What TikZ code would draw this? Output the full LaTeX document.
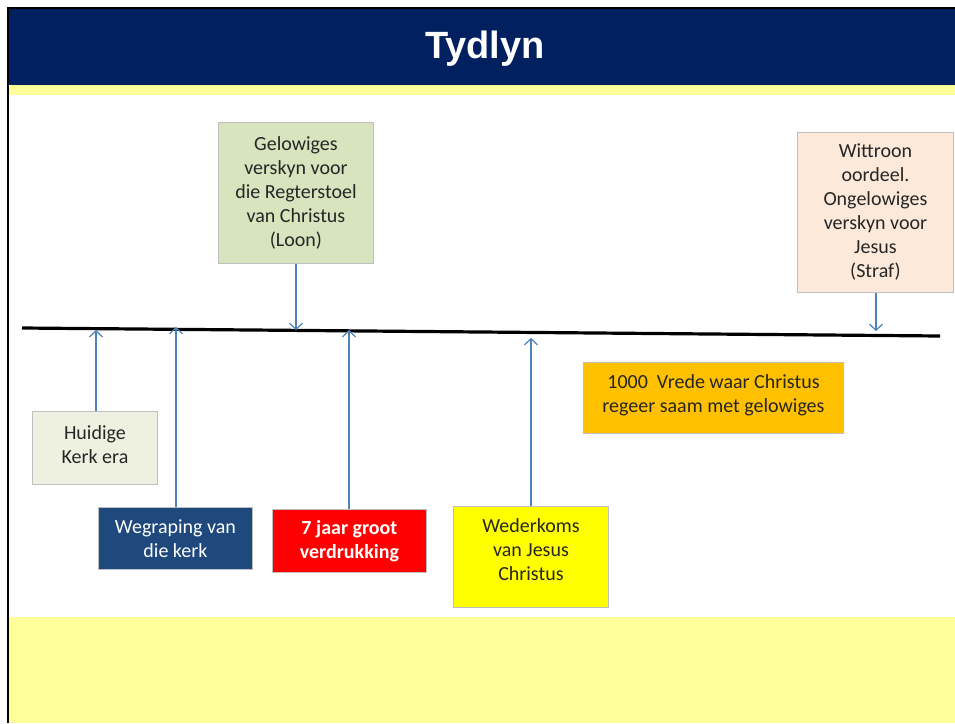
\documentclass[tikz,border=0pt]{standalone}
\usepackage{fontspec}
\setmainfont{Carlito}
\newfontfamily\titlefont{Liberation Sans}
\usetikzlibrary{arrows.meta}
\definecolor{navy}{HTML}{002060}
\definecolor{paleyellow}{HTML}{FFFF99}
\definecolor{boxgreen}{HTML}{D7E4BD}
\definecolor{boxpeach}{HTML}{FDE9D9}
\definecolor{boxpale}{HTML}{EEF1E0}
\definecolor{boxblue}{HTML}{1F497D}
\definecolor{boxorange}{HTML}{FFC000}
\definecolor{boxred}{HTML}{FF0000}
\definecolor{boxyellow}{HTML}{FFFF00}
\definecolor{arrowblue}{HTML}{4F81BD}
\definecolor{boxline}{HTML}{BFBFBF}
\definecolor{txt}{HTML}{262626}
\tikzset{
  evbox/.style={draw=boxline, line width=0.9pt, align=center, inner sep=0pt,
    anchor=north west, text=txt, font=\fontsize{20}{24}\selectfont},
  evtext/.style={align=center, inner sep=0pt, text=txt, font=\fontsize{20}{24}\selectfont},
  evarrow/.style={draw=arrowblue, line width=1.2pt,
    -{Straight Barb[length=6pt,width=13pt,line width=1.2pt]}},
  timeline/.style={draw=black, line width=3.2pt},
}
\begin{document}
\begin{tikzpicture}[x=1pt,y=-1pt]
\useasboundingbox (0,0) rectangle (955,723);
% background bands
\fill[white] (0,0) rectangle (955,723);
\fill[navy] (8,9) rectangle (955,85);
\fill[paleyellow] (8,85) rectangle (955,95);
\fill[paleyellow] (8,617) rectangle (955,723);
\draw[black, line width=2pt] (7.5,723) -- (7.5,8) -- (955,8);
\node[font=\titlefont\bfseries\fontsize{38}{40}\selectfont, text=white] (title) at (485,49) {Tydlyn};

% timeline
\coordinate (tl) at (22,328);
\coordinate (tr) at (940,336);
\draw[timeline] (tl) -- (tr);

% boxes
\node[evbox, fill=boxgreen, minimum width=155pt, minimum height=141pt] (gelowiges) at (218,122)
  {Gelowiges\\verskyn voor\\die Regterstoel\\van Christus\\(Loon)};
\node[evbox, fill=boxpeach, minimum width=156pt, minimum height=160pt] (wittroon) at (797,132)
  {Wittroon\\oordeel.\\Ongelowiges\\verskyn voor\\Jesus\\(Straf)};
\node[evbox, fill=boxpale, minimum width=125pt, minimum height=73pt] (huidige) at (32,411) {};
\node[evtext] (huidigetext) at ([yshift=3pt]huidige.center) {Huidige\\Kerk era};
\node[evbox, fill=boxblue, text=white, minimum width=154pt, minimum height=62pt] (wegraping) at (98,507)
  {Wegraping van\\die kerk};
\node[evbox, fill=boxred, text=white, font=\bfseries\fontsize{20}{24}\selectfont, minimum width=154pt, minimum height=63pt] (verdrukking) at (272,509)
  {7 jaar groot\\verdrukking};
\node[evbox, fill=boxyellow, minimum width=155pt, minimum height=101pt] (wederkoms) at (453,506) {};
\node[evtext] (wederkomstext) at ([yshift=7pt]wederkoms.center) {Wederkoms\\van Jesus\\Christus};
\node[evbox, fill=boxorange, minimum width=260pt, minimum height=71pt] (vrede) at (583,362) {};
\node[evtext] (vredetext) at ([yshift=3pt]vrede.center) {1000\ \ Vrede waar Christus\\regeer saam met gelowiges};

% arrow tips on the timeline
\coordinate (t1) at (96,330);
\coordinate (t2) at (176,327);
\coordinate (t3) at (296,330);
\coordinate (t4) at (349,330);
\coordinate (t5) at (531,338);
\coordinate (t6) at (876,331);

\draw[evarrow] (huidige.north -| t1) -- (t1);
\draw[evarrow] (wegraping.north -| t2) -- (t2);
\draw[evarrow] (gelowiges.south -| t3) -- (t3);
\draw[evarrow] (verdrukking.north -| t4) -- (t4);
\draw[evarrow] (wederkoms.north -| t5) -- (t5);
\draw[evarrow] (wittroon.south -| t6) -- (t6);
\end{tikzpicture}
\end{document}
